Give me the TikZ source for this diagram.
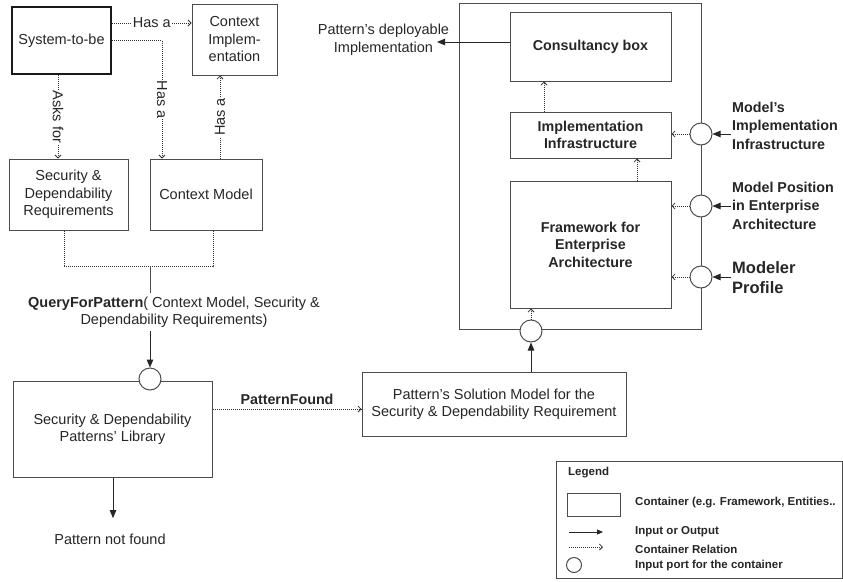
\documentclass[tikz,border=0pt]{standalone}
\usepackage{fontspec}
\setmainfont{Liberation Sans}
\usetikzlibrary{positioning,arrows.meta}

\begin{document}
\begin{tikzpicture}[
  x=1pt, y=-1pt,
  font=\fontsize{14.5}{17.5}\selectfont,
  every node/.append style={text=black!85},
  box/.style={draw=black!70, line width=1pt, align=center, inner sep=2pt},
  bx/.style={box, font=\fontsize{14.3}{17.5}\selectfont\bfseries},
  port/.style={circle, draw=black!70, line width=1pt, fill=white,
               minimum size=22pt, inner sep=0pt},
  rel/.style={densely dotted, draw=black!80, line width=1pt,
              -{Straight Barb[length=3pt, width=6pt, line width=0.8pt]}},
  io/.style={draw=black!85, line width=1pt, -{Triangle[length=8pt, width=6.5pt]}},
  lab/.style={fill=white, inner sep=1pt},
  lbl/.style={font=\fontsize{14.3}{18.5}\selectfont\bfseries, align=left, inner sep=1pt},
  lg/.style={font=\fontsize{11.5}{13}\selectfont\bfseries, inner sep=0pt}
]
\useasboundingbox (0,0) rectangle (843,581);

% system side
\node[box, line width=2pt, draw=black!90, minimum width=99pt, minimum height=67pt] (sys) at (61.5,40.5) {System-to-be};
\node[box, minimum width=85pt, minimum height=71pt] (impl) at (234.5,39.5) {Context\\Implem-\\entation};
\node[box, minimum width=119pt, minimum height=71pt] (req) at (68.5,194.5) {Security \&\\Dependability\\Requirements};
\node[box, minimum width=112pt, minimum height=71pt] (ctx) at (206,194.5) {Context Model};

\draw[rel] ([yshift=17.5pt]sys.east) -- ([yshift=17.5pt]sys.east -| impl.west) node[lab, midway] {Has a};
\draw[rel] (sys.east) -| ([xshift=-44pt]ctx.north) node[lab, pos=0.75, rotate=-90] {Has a};
\draw[rel] ([xshift=-3.5pt]sys.south) -- ([xshift=-3.5pt]sys.south |- req.north) node[lab, midway, rotate=-90] {Asks for};
\draw[rel] ([xshift=14pt]ctx.north) -- ([xshift=14pt]ctx.north |- impl.south) node[lab, midway, rotate=90] {Has a};

\draw[densely dotted, draw=black!80, line width=1pt]
  ([xshift=-4.5pt]req.south) -- ++(0,36) -| ([xshift=7pt]ctx.south);
\coordinate (jn) at (150,266);

\node[align=center] (qry) at (174,312) {\textbf{QueryForPattern}( Context Model, Security \&\\Dependability Requirements)};
\draw[draw=black!70, line width=1pt] (jn) -- (jn |- qry.north);

% library
\node[box, minimum width=199pt, minimum height=96pt] (lib) at (112.5,429) {Security \& Dependability\\Patterns' Library};
\node[port] (pl) at (150,379) {};
\draw[io] (jn |- qry.south) -- (pl.north);
\node (nf) at (110,539) {Pattern not found};
\draw[io, shorten >=12pt] ([xshift=0.5pt]lib.south) -- ([xshift=0.5pt]lib.south |- nf.north);

\node[box, minimum width=264pt, minimum height=64pt] (sol) at (494,404) {Pattern's Solution Model for the\\Security \& Dependability Requirement};
\draw[rel] ([yshift=20pt]lib.east) -- ([yshift=20pt]lib.east -| sol.west)
  node[midway, above=1pt, font=\fontsize{14.3}{17.5}\selectfont\bfseries] {PatternFound};

% container
\node[box, minimum width=242pt, minimum height=326pt] (outer) at (580,166) {};
\node[bx, minimum width=161pt, minimum height=69pt] (cons) at (590.5,46.5) {Consultancy box};
\node[bx, minimum width=161pt, minimum height=46pt] (infra) at (590.5,135) {Implementation\\Infrastructure};
\node[bx, minimum width=161pt, minimum height=127pt] (fw) at (590.5,244.5) {Framework for\\Enterprise\\Architecture};
\node[port] (pb) at (531,331) {};
\node[port] (p1) at (701,134) {};
\node[port] (p2) at (701,206) {};
\node[port] (p3) at (701,277) {};

\node[lbl, anchor=west] (l1) at (731,125.5) {Model's\\Implementation\\Infrastructure};
\node[lbl, anchor=west] (l2) at (731,205.5) {Model Position\\in Enterprise\\Architecture};
\node[lbl, anchor=west, font=\fontsize{16.5}{20}\selectfont\bfseries] (l3) at (731,278) {Modeler\\Profile};

\foreach \p/\l in {p1/l1, p2/l2, p3/l3} \draw[io] (\p.east -| \l.west) -- (\p.east);
\foreach \p/\b in {p1/infra, p2/fw, p3/fw} \draw[rel] (\p.west) -- (\p.west -| \b.east);

\draw[io] ([xshift=37pt]sol.north) -- (pb.south);
\draw[rel] (pb.north) -- (pb.north |- fw.south);
\draw[rel] ([xshift=46.5pt]fw.north) -- ([xshift=46.5pt]fw.north |- infra.south);
\draw[rel] ([xshift=-46.5pt]infra.north) -- ([xshift=-46.5pt]infra.north |- cons.south);

\node[align=center] (dep) at (383.5,39.5) {Pattern's deployable\\Implementation};
\coordinate (deptip) at (437,42);
\draw[io] ([yshift=4.5pt]cons.west) -- (deptip);

% legend
\node[draw=black!70, line width=1pt, minimum width=286pt, minimum height=117pt] (leg) at (699,519.5) {};
\node[lg, anchor=west] (legt) at (568,473) {Legend};
\node[box, minimum width=53pt, minimum height=23pt] (lbox) at (593.5,504.5) {};
\node[lg, anchor=west] (t1) at (635,503) {Container (e.g. Framework, Entities..};
\coordinate (a1) at (569,532);
\coordinate (a2) at (603,532);
\draw[io, line width=0.9pt, -{Triangle[length=6pt, width=5pt]}] (a1) -- (a2);
\node[lg, anchor=west] (t2) at (635,532) {Input or Output};
\coordinate (b1) at (569,547);
\coordinate (b2) at (603,547);
\draw[rel] (b1) -- (b2);
\node[lg, anchor=west] (t3) at (635,549) {Container Relation};
\node[port, minimum size=15pt] (lp) at (574,565) {};
\node[lg, anchor=west] (t4) at (635,566) {Input port for the container};
\end{tikzpicture}
\end{document}
